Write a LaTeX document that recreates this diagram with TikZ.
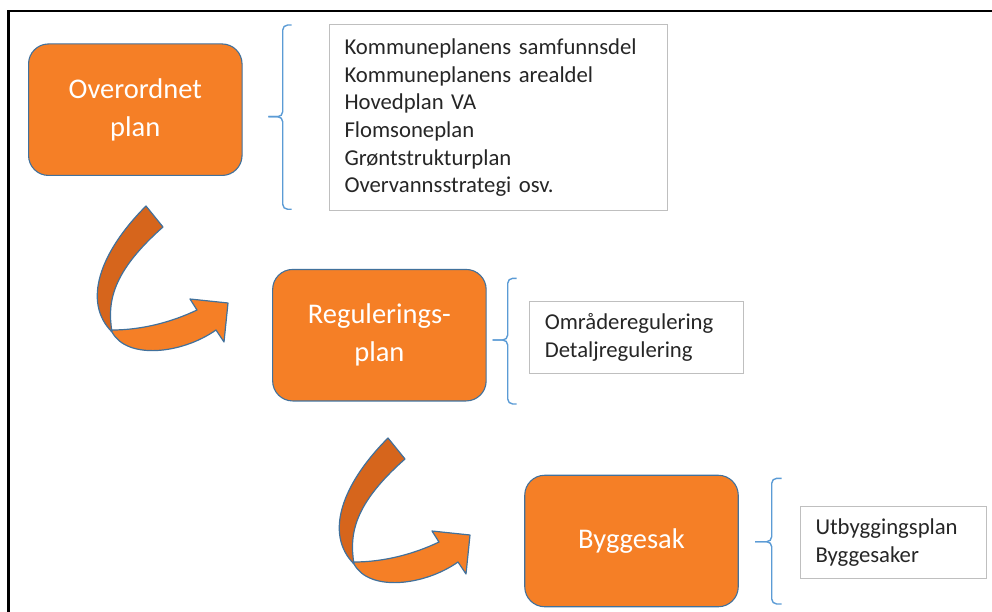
\documentclass[tikz,border=0pt]{standalone}
\usepackage{fontspec}
\setmainfont{Carlito}
\definecolor{planorange}{RGB}{245,127,38}
\definecolor{planshade}{RGB}{214,101,28}
\definecolor{planedge}{RGB}{65,113,156}
\definecolor{braceblue}{RGB}{91,155,213}
\definecolor{listgray}{RGB}{191,191,191}
\definecolor{listtext}{RGB}{38,38,38}
\tikzset{
  twistarrow/.pic={
    % back side of the ribbon
    \filldraw[fill=planshade,draw=planedge,line width=1.2pt,line join=round]
      (34,-126) -- (51,-105) .. controls (0,-60) and (-5,-30) .. (0,0)
      .. controls (-30,-30) and (-12,-80) .. (34,-126) -- cycle;
    % front side with the head
    \filldraw[fill=planorange,draw=planedge,line width=1.2pt,line join=round]
      (0,-2) .. controls (30,-2) and (60,-10) .. (85,-22)
      -- (78,-33) -- (116,-29) -- (112,10) -- (104,-2)
      .. controls (70,22) and (15,28) .. (0,0) -- cycle;
  }
}
\begin{document}
\begin{tikzpicture}[x=1pt,y=-1pt,
  stage/.style={rounded corners=20pt,fill=planorange,draw=planedge,line width=1.1pt,
    minimum width=213.5pt,minimum height=131.5pt,text=white,align=center,
    font=\fontsize{28.5}{38}\selectfont},
  listbox/.style={draw=listgray,line width=1pt,fill=white,align=left,anchor=north west,
    inner xsep=15pt,inner ysep=0pt,text=listtext,font=\fontsize{22.7}{27.7}\selectfont},
  bracket/.style={braceblue,line width=1.4pt,rounded corners=5pt}]
  \useasboundingbox (0,0) rectangle (992,612);
  \draw[line width=2.6pt] (8.3,612) -- (8.3,11) -- (992,11);

  \node[stage] (overordnet) at (135.3,109.7) {Overordnet\\plan};
  \node[stage] (regulering) at (379.4,335.2) {Regulerings-\\plan};
  \node[stage] (byggesak) at (631.5,541) {Byggesak};

  \node[listbox,text width=308pt,minimum height=185.7pt] (planer) at (329,24.3)
    {Kommuneplanens samfunnsdel\\Kommuneplanens arealdel\\Hovedplan VA\\Flomsoneplan\\Grøntstrukturplan\\Overvannsstrategi osv.};
  \node[listbox,text width=183.4pt,minimum height=72.6pt] (reguleringer) at (529.3,300.7)
    {Områderegulering\\Detaljregulering};
  \node[listbox,text width=156pt,minimum height=72.3pt] (saker) at (800,506)
    {Utbyggingsplan\\Byggesaker};

  % braces
  \draw[bracket] (291.7,25) -- (282.7,25) -- (282.7,116.7) -- (268.3,116.7);
  \draw[bracket] (291.7,209.3) -- (282.7,209.3) -- (282.7,116.7) -- (268.3,116.7);
  \draw[bracket] (516.7,278.3) -- (507.7,278.3) -- (507.7,340) -- (492.7,340);
  \draw[bracket] (516.7,404) -- (507.7,404) -- (507.7,340) -- (492.7,340);
  \draw[bracket] (781.7,478.3) -- (771.7,478.3) -- (771.7,541.7) -- (755,541.7);
  \draw[bracket] (781.7,604) -- (771.7,604) -- (771.7,541.7) -- (755,541.7);

  % curved arrows
  \pic at (112,332) {twistarrow};
  \pic at (354,564) {twistarrow};
\end{tikzpicture}
\end{document}
